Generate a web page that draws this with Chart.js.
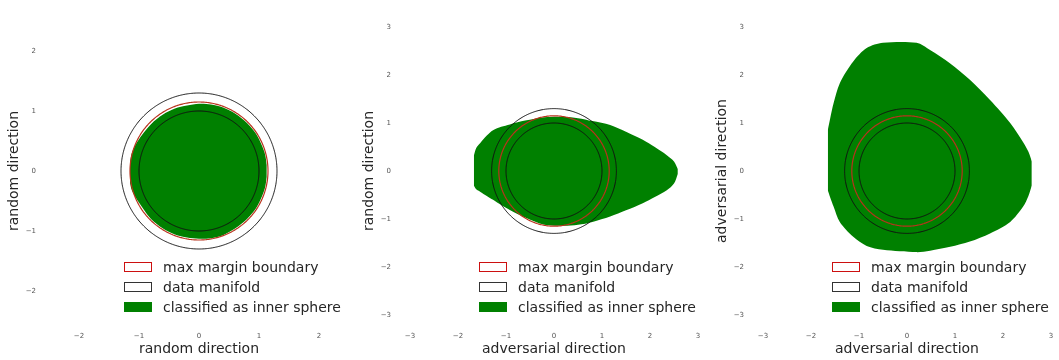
<!DOCTYPE html>
<html>
<head>
<meta charset="utf-8">
<script src="https://cdn.jsdelivr.net/npm/chart.js@4/dist/chart.umd.min.js"></script>
<style>
  html, body { margin: 0; padding: 0; background: #fff; overflow: hidden; }
  body { width: 1059px; height: 360px; position: relative; font-family: "DejaVu Sans", sans-serif; }
  .panel { position: absolute; top: 0; width: 355px; height: 360px; }
  .panel canvas { position: absolute; left: 0; top: 0; }
  .legend { position: absolute; left: 124px; top: 257px; color: #262626; font-size: 14px; }
  .legend .row { height: 20px; display: flex; align-items: center; white-space: nowrap; }
  .legend .box { width: 26px; height: 8px; margin-right: 11px; border: 1px solid #333; }
</style>
</head>
<body>
<div class="panel" style="left:0px"><canvas id="c1" width="355" height="360"></canvas></div>
<div class="panel" style="left:355px"><canvas id="c2" width="355" height="360"></canvas></div>
<div class="panel" style="left:708px"><canvas id="c3" width="355" height="360"></canvas></div>
<script>
// circles (radius, in axis units)
const manifoldRadii = [1.0, 1.3];
const marginRadius = [1.15];

// panel 1: random vs random
const p1X = [-1.15, -1.12, -1.05, -0.95, -0.8, -0.6, -0.4, -0.2, 0, 0.2, 0.4, 0.6, 0.8, 0.95, 1.05, 1.1, 1.13];
const p1Top = [0.15, 0.3, 0.45, 0.6, 0.78, 0.94, 1.04, 1.09, 1.12, 1.11, 1.06, 0.96, 0.8, 0.62, 0.42, 0.28, 0.1];
const p1Bot = [-0.2, -0.32, -0.45, -0.6, -0.8, -0.96, -1.06, -1.11, -1.13, -1.12, -1.07, -0.96, -0.8, -0.62, -0.42, -0.28, -0.1];

// panel 2: adversarial vs random
const p2X = [-1.67, -1.62, -1.54, -1.4, -1.27, -1.1, -0.92, -0.6, -0.2, 0.2, 0.5, 0.8, 1.17, 1.5, 1.85, 2.1, 2.35, 2.5, 2.58];
const p2Top = [0.32, 0.48, 0.58, 0.74, 0.85, 0.92, 0.97, 1.05, 1.12, 1.13, 1.1, 1.04, 0.96, 0.82, 0.65, 0.5, 0.33, 0.2, 0.04];
const p2Bot = [-0.3, -0.38, -0.43, -0.52, -0.6, -0.71, -0.81, -0.97, -1.12, -1.14, -1.12, -1.06, -0.95, -0.82, -0.67, -0.54, -0.4, -0.26, -0.06];

// panel 3: adversarial vs adversarial
const p3X = [-1.65, -1.6, -1.53, -1.4, -1.12, -0.84, -0.5, 0.2, 0.48, 0.9, 1.31, 1.73, 2.15, 2.42, 2.53, 2.6];
const p3Top = [0.85, 1.1, 1.41, 1.83, 2.28, 2.56, 2.67, 2.67, 2.52, 2.24, 1.9, 1.48, 1.0, 0.6, 0.4, 0.2];
const p3Bot = [-0.4, -0.55, -0.74, -1.06, -1.37, -1.56, -1.64, -1.69, -1.66, -1.58, -1.47, -1.3, -1.06, -0.74, -0.52, -0.3];

const ticksSmall = [-2, -1, 0, 1, 2];
const ticksLarge = [-3, -2, -1, 0, 1, 2, 3];

const legendLabels = ["max margin boundary", "data manifold", "classified as inner sphere"];

function circle(r) {
  const pts = [];
  for (let i = 0; i <= 180; i++) {
    const a = (i / 180) * Math.PI * 2;
    pts.push({ x: r * Math.cos(a), y: r * Math.sin(a) });
  }
  return pts;
}

function zip(xs, ys) {
  return xs.map((x, i) => ({ x, y: ys[i] }));
}

function fmt(v) {
  return v < 0 ? "\u2212" + Math.abs(v) : String(v);
}

function axis(title, ticks, lim, isY) {
  return {
    type: "linear",
    min: -lim,
    max: lim,
    grid: { display: false, drawTicks: false },
    border: { display: false },
    afterBuildTicks: (s) => { s.ticks = ticks.map((v) => ({ value: v })); },
    afterFit: (s) => { if (isY) s.width = 43; else s.height = 33; },
    ticks: {
      padding: isY ? 7 : 5,
      color: "#555",
      font: { family: "DejaVu Sans", size: 7 },
      callback: (v) => fmt(v),
    },
    title: {
      display: true,
      text: title,
      color: "#262626",
      font: { family: "DejaVu Sans", size: 14 },
      padding: isY ? { top: 6, bottom: 0 } : { top: 0, bottom: 2 },
    },
  };
}

function makeChart(id, xs, top, bot, xTitle, yTitle, ticks, lim) {
  const datasets = [
    ...marginRadius.map((r) => ({
      data: circle(r), borderColor: "#b8321c", borderWidth: 1.2, fill: false, tension: 0.1,
    })),
    ...manifoldRadii.map((r) => ({
      data: circle(r), borderColor: "#111", borderWidth: 1, fill: false, tension: 0.1,
    })),
    { data: zip(xs, top), borderWidth: 0, borderColor: "green", backgroundColor: "#008000", fill: "+1", tension: 0.3 },
    { data: zip(xs, bot), borderWidth: 0, borderColor: "green", backgroundColor: "#008000", fill: false, tension: 0.3 },
  ];
  datasets.forEach((d) => { d.showLine = true; d.pointRadius = 0; });

  new Chart(document.getElementById(id), {
    type: "scatter",
    data: { datasets },
    options: {
      responsive: false,
      animation: false,
      events: [],
      layout: { padding: { top: 15, left: 0, right: 0, bottom: 0 } },
      plugins: { legend: { display: false }, tooltip: { enabled: false } },
      scales: {
        x: axis(xTitle, ticks, lim, false),
        y: axis(yTitle, ticks, lim, true),
      },
    },
  });

  const legend = document.createElement("div");
  legend.className = "legend";
  const boxes = [
    "border-color:#cc1010;background:#fff",
    "border-color:#333;background:#fff",
    "border-color:#008000;background:#008000",
  ];
  legendLabels.forEach((label, i) => {
    const row = document.createElement("div");
    row.className = "row";
    row.innerHTML = `<span class="box" style="${boxes[i]}"></span><span>${label}</span>`;
    legend.appendChild(row);
  });
  document.getElementById(id).parentNode.appendChild(legend);
}

makeChart("c1", p1X, p1Top, p1Bot, "random direction", "random direction", ticksSmall, 2.6);
makeChart("c2", p2X, p2Top, p2Bot, "adversarial direction", "random direction", ticksLarge, 3.25);
makeChart("c3", p3X, p3Top, p3Bot, "adversarial direction", "adversarial direction", ticksLarge, 3.25);
</script>
</body>
</html>
